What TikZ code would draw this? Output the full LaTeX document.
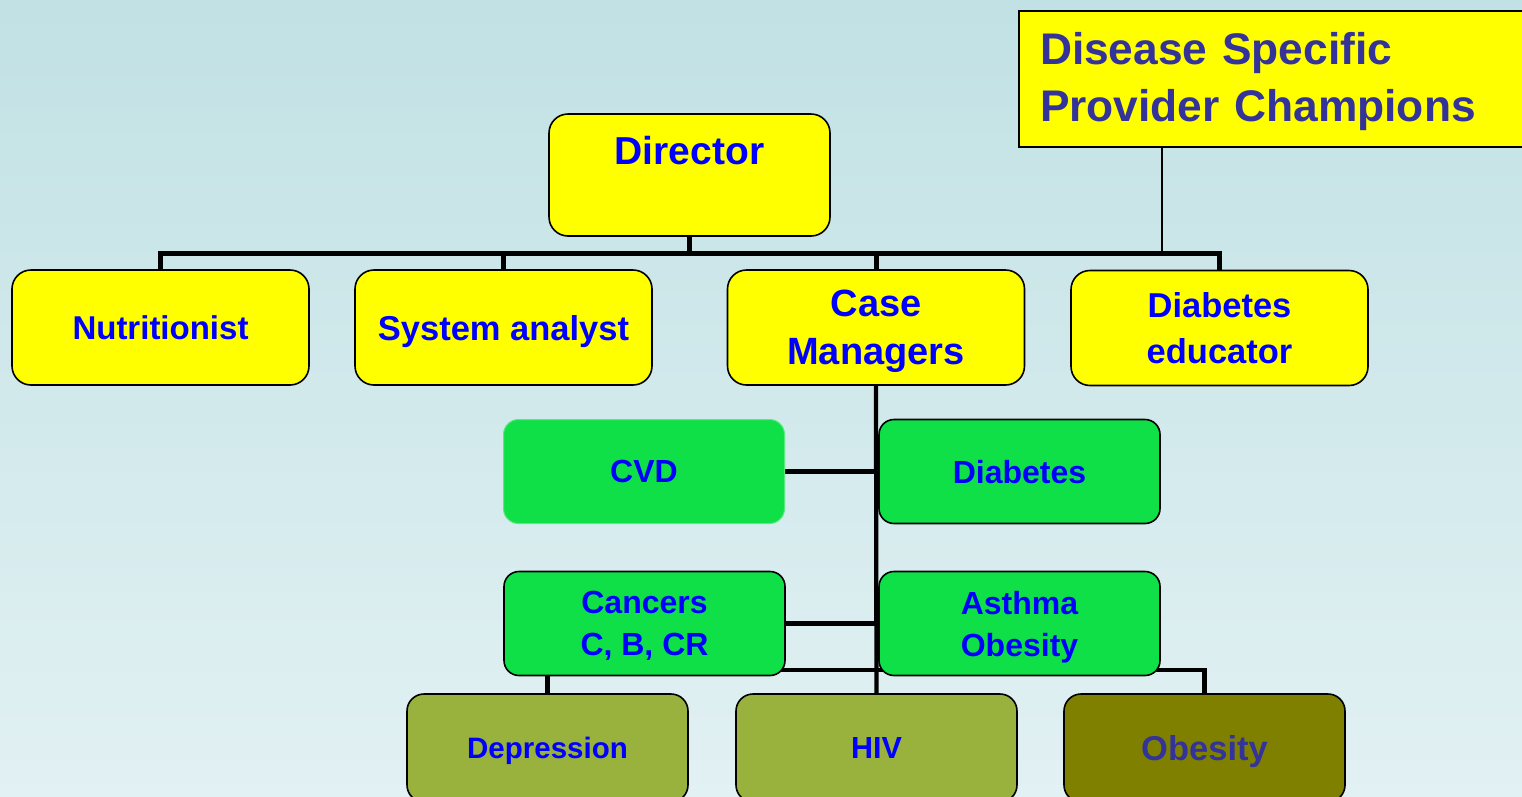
\documentclass[tikz,border=0pt]{standalone}
\usepackage{fontspec}
\setmainfont{Liberation Sans}
\definecolor{bgtop}{RGB}{193,225,228}
\definecolor{bgbot}{RGB}{226,241,243}
\definecolor{ylw}{RGB}{255,255,0}
\definecolor{grn}{RGB}{16,224,72}
\definecolor{olivea}{RGB}{153,177,61}
\definecolor{oliveb}{RGB}{128,128,0}
\definecolor{txtblue}{RGB}{0,0,255}
\definecolor{navy}{RGB}{51,51,153}
\pgfdeclarelayer{bg}
\pgfdeclarelayer{conn}
\pgfsetlayers{bg,conn,main}
\begin{document}
\begin{tikzpicture}[x=1pt,y=-1pt,
  box/.style={draw=black, line width=1.6pt, inner sep=0pt, align=center, text=txtblue, text depth=0pt},
  ybox/.style={box, fill=ylw, rounded corners=19pt, minimum width=297pt, minimum height=115pt},
  gbox/.style={box, fill=grn, rounded corners=15pt, minimum width=281pt, minimum height=104pt},
  obox/.style={box, fill=olivea, rounded corners=17pt, minimum width=281pt, minimum height=108pt},
  bus/.style={line width=5pt},
  trunk/.style={line width=4.3pt},
  thinline/.style={line width=1.3pt},
  lbl/.style={text=txtblue, font=\bfseries\fontsize{39}{47}\selectfont}
]
\useasboundingbox (0,0) rectangle (1522,796);
\begin{pgfonlayer}{bg}
\shade[top color=bgtop, bottom color=bgbot] (0,0) rectangle (1522,796);
\end{pgfonlayer}
\clip (0,0) rectangle (1522,796);

% top box
\node[draw=black, line width=2pt, fill=ylw, anchor=north west, minimum width=512pt,
      minimum height=136pt, text width=470pt, align=left, inner xsep=21pt, inner ysep=0pt,
      text=navy, font=\bfseries\fontsize{44.3}{57}\selectfont] (dsp) at (1018,10)
      {\rule{0pt}{38pt}Disease Specific\\Provider Champions};

% director
\node[ybox, minimum width=281pt, minimum height=122pt,
      label={[lbl, yshift=24pt]center:Director}] (dir) at (689.5,175) {};

% level 2
\node[ybox, font=\bfseries\fontsize{33}{40}\selectfont] (nut) at (160.5,327.5) {Nutritionist};
\node[ybox, font=\bfseries\fontsize{34.5}{40}\selectfont] (sys) at (503.5,327.5) {System analyst};
\node[ybox, font=\bfseries\fontsize{38}{48}\selectfont] (case) at (876,327.5) {Case\\Managers};
\node[ybox, font=\bfseries\fontsize{34.5}{46}\selectfont] (dedu) at (1219.5,328) {Diabetes\\educator};

% level 3
\node[gbox, draw=grn!70!white, line width=1pt, font=\bfseries\fontsize{32}{40}\selectfont] (cvd) at (644,471.5) {CVD};
\node[gbox, font=\bfseries\fontsize{32}{40}\selectfont] (dia) at (1019.5,471.5) {Diabetes};
\node[gbox, font=\bfseries\fontsize{32}{42}\selectfont] (canc) at (644.5,623.5) {Cancers\\C, B, CR};
\node[gbox, font=\bfseries\fontsize{32}{42}\selectfont] (asth) at (1019.5,623.5) {Asthma\\Obesity};

% level 4
\node[obox, font=\bfseries\fontsize{29.5}{36}\selectfont] (dep) at (547.5,748) {Depression};
\node[obox, font=\bfseries\fontsize{30.5}{36}\selectfont] (hiv) at (876.5,748) {HIV};
\node[obox, fill=oliveb, text=navy, font=\bfseries\fontsize{34.5}{40}\selectfont] (obes) at (1204.5,748) {Obesity};

\coordinate (busL) at (0,253);
\coordinate (lowL) at (0,670);
\coordinate (dspj) at (1162,256);

\begin{pgfonlayer}{conn}
\draw[bus] (dir.south) -- (dir.south |- busL);
\draw[bus, line cap=rect] (nut.north) -- (nut.north |- busL) -- (dedu.north |- busL) -- (dedu.north);
\draw[bus] (sys.north) -- (sys.north |- busL);
\draw[bus] (case.north) -- (case.north |- busL);
\draw[thinline] (dsp.south -| dspj) -- (dspj);
\draw[trunk] (case.south) -- (hiv.north);
\draw[trunk] (cvd.east) -- (cvd.east -| case.south);
\draw[trunk] (canc.east) -- (canc.east -| case.south);
\draw[trunk] (dep.north) -- (dep.north |- lowL) -- (obes.north |- lowL) -- (obes.north);
\end{pgfonlayer}
\end{tikzpicture}
\end{document}
